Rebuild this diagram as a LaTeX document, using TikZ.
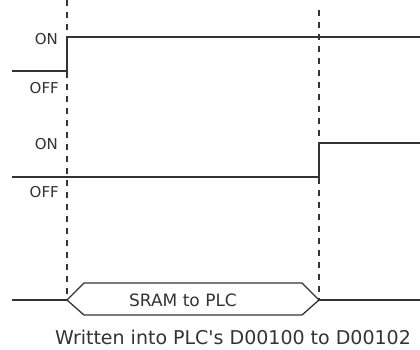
\documentclass[tikz,border=0pt]{standalone}
\usepackage{fontspec}
\setmainfont{DejaVu Sans}
\usetikzlibrary{positioning}
\definecolor{cLine}{HTML}{333333}
\definecolor{cText}{HTML}{333333}

\begin{document}
\begin{tikzpicture}[
 x=1pt,y=-1pt,font=\fontsize{15}{17}\selectfont,
 line cap=butt,line join=miter,
 sig/.style={draw=cLine,line width=1.6pt},
 guide/.style={draw=cLine,line width=1.4pt,dash pattern=on 6pt off 6pt},
 lvl/.style={anchor=east,text=cText,inner sep=0pt},
 note/.style={text=cText,inner sep=0pt}]
\path[use as bounding box] (0,0) rectangle (420,349);

% level labels
\node[lvl] (on1)  at (58,39)  {ON};
\node[lvl] (off1) at (59,88)  {OFF};
\node[lvl] (on2)  at (58,144) {ON};
\node[lvl] (off2) at (59,192) {OFF};

% time marks
\coordinate (tA) at (67,0);
\coordinate (tB) at (319,10);
\coordinate (busA) at (67,300);
\coordinate (busB) at (319,300);
\draw[guide] (tA)--(busA);
\draw[guide] (tB)--(busB);

% signals
\draw[sig] (12,71)-|(tA|-0,37)--(420,37);
\draw[sig] (12,177)-|(tB|-0,143)--(420,143);

% transfer
\draw[sig] (12,300)--(busA);
\draw[sig,line width=1.3pt] (busA)--(84,283)--(302,283)--(busB)--(302,315)--(84,315)--cycle;
\draw[sig] (busB)--(420,300);
\node[note,font=\fontsize{17}{19}\selectfont] (xfer) at (183,300) {SRAM to PLC};
\node[note,font=\fontsize{19}{21}\selectfont] (dest) at (233,337) {Written into PLC\textquotesingle s D00100 to D00102};
\end{tikzpicture}
\end{document}
